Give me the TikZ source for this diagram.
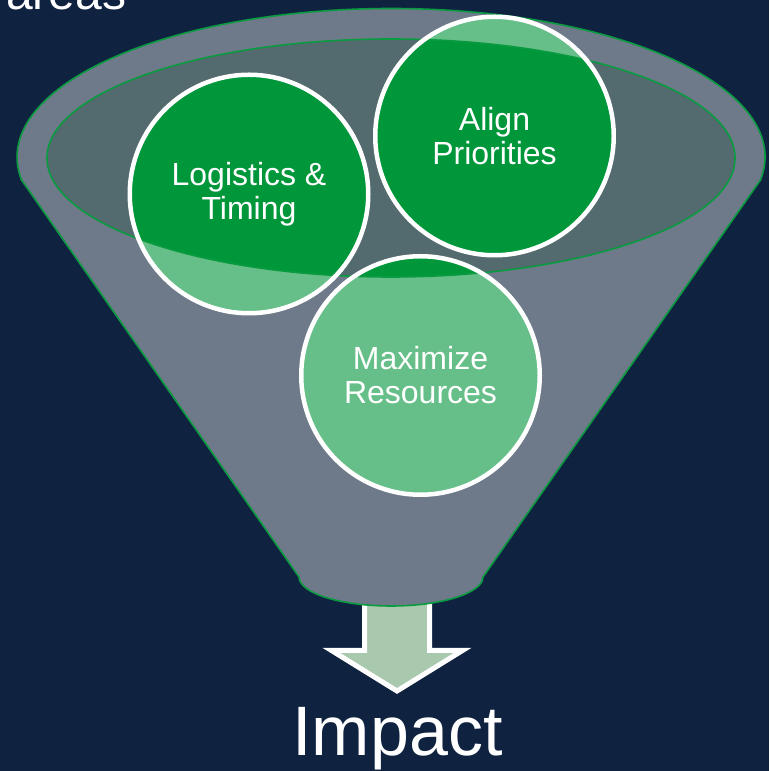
\documentclass[tikz,border=0pt]{standalone}
\usepackage{fontspec}
\setmainfont{Liberation Sans}
\definecolor{bg}{HTML}{0F2340}
\definecolor{funnel}{HTML}{6E7A8A}
\definecolor{innerc}{HTML}{536A6E}
\definecolor{darkg}{HTML}{00963A}
\definecolor{lightg}{HTML}{66BF88}
\definecolor{arrowc}{HTML}{A9C9AE}
\definecolor{edgeg}{HTML}{0A9A40}
\tikzset{
  circ/.style={circle, draw=white, line width=4.5pt, minimum size=238.5pt, inner sep=0pt, outer sep=0pt,
    text=white, align=center, font=\fontsize{32}{34}\selectfont},
  edge/.style={draw=edgeg, line width=1.6pt},
}
\begin{document}
\begin{tikzpicture}[x=1pt,y=1pt]
\useasboundingbox (0,0) rectangle (769,771);
\clip (0,0) rectangle (769,771);
\fill[bg] (0,0) rectangle (769,771);
% cropped heading at the top
\node[font=\fontsize{48}{50}\selectfont, text=white, anchor=base west, inner sep=0pt] (heading) at (6,761) {areas};
% arrow
\draw[fill=arrowc, draw=white, line width=5pt, line join=miter]
  (364.5,170) -- (429.5,170) -- (429.5,120.5) -- (462.5,120.5) -- (397,80) -- (331.5,120.5) -- (364.5,120.5) -- cycle;
% funnel body
\draw[fill=funnel, edge]
  (21.5,591) -- (299,194) arc[start angle=180, end angle=360, x radius=92, y radius=29]
  -- (760.5,591) arc[start angle=-8.91, end angle=188.91, x radius=374, y radius=148.5] -- cycle;
% inner opening
\fill[innerc] (391,613) ellipse[x radius=344, y radius=119];
% circles: light outside the opening
\foreach \p in {(249,577),(494.5,635),(420.5,395.5)}
  \fill[lightg] \p circle[radius=120];
% circles: dark inside the opening
\begin{scope}
  \clip (391,613) ellipse[x radius=344, y radius=119];
  \foreach \p in {(249,577),(494.5,635),(420.5,395.5)}
    \fill[darkg] \p circle[radius=120];
\end{scope}
\draw[edge] (391,613) ellipse[x radius=344, y radius=119];
% circle borders and labels
\node[circ] (logistics) at (249,577) {Logistics \&\\Timing};
\node[circ] (align) at (494.5,635) {Align\\Priorities};
\node[circ] (maximize) at (420.5,395.5) {Maximize\\Resources};
% result
\node[font=\fontsize{70}{71}\selectfont, text=white, anchor=base, inner sep=0pt] (impact) at (397.5,16) {Impact};
\end{tikzpicture}
\end{document}
